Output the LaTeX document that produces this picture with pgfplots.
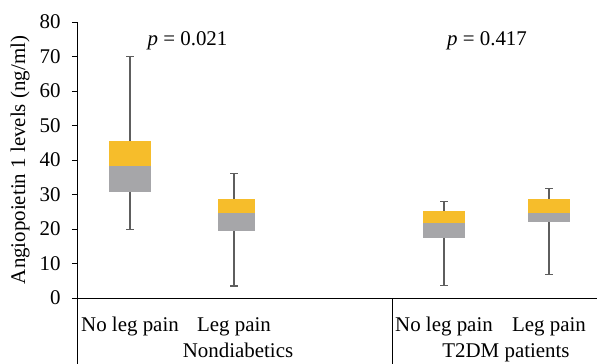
\documentclass[border=0pt]{standalone}
\usepackage{fontspec}
\setmainfont{Liberation Serif}
\usepackage{pgfplots}
\pgfplotsset{compat=1.18}
\definecolor{boxyellow}{HTML}{F6BD2B}
\definecolor{boxgrey}{HTML}{A6A6A9}
\definecolor{whisk}{HTML}{5E5E5E}
\begin{document}
\begin{tikzpicture}[x=1bp,y=1bp]
\useasboundingbox (-77bp,-66bp) rectangle (520bp,298bp);
\begin{axis}[
  at={(0,0)}, anchor=south west,
  scale only axis, width=520bp, height=276bp,
  xmin=0, xmax=520, ymin=0, ymax=80,
  axis x line=bottom, axis y line=left,
  axis line style={-, black, line width=0.9bp},
  clip=false,
  ytick={0,10,...,80},
  xtick={53,157,367,472},
  xticklabels={No leg pain, Leg pain, No leg pain, Leg pain},
  x tick style={draw=none},
  y tick style={black, line width=0.9bp},
  tick align=outside, major tick length=5bp,
  /pgf/number format/assume math mode=true,
  tick label style={font=\fontsize{21}{25}\selectfont},
  xticklabel style={anchor=base, yshift=-28bp},
  yticklabel style={anchor=east, xshift=-8bp},
  every axis y label/.style={at={([xshift=-57bp]axis description cs:0,0.5)}, rotate=90, anchor=center, font=\fontsize{21}{25}\selectfont},
  ylabel={Angiopoietin 1 levels (ng/ml)},
]
% whiskers (drawn first, boxes cover the inner ends)
\addplot[whisk, line width=1.3bp, mark=-, mark size=4bp, mark options={solid, line width=1.3bp}] coordinates {(53,19.8) (53,70)};
\addplot[whisk, line width=1.3bp, mark=-, mark size=4bp, mark options={solid, line width=1.3bp}] coordinates {(157,3.5) (157,36.1)};
\addplot[whisk, line width=1.3bp, mark=-, mark size=4bp, mark options={solid, line width=1.3bp}] coordinates {(367,3.7) (367,27.9)};
\addplot[whisk, line width=1.3bp, mark=-, mark size=4bp, mark options={solid, line width=1.3bp}] coordinates {(472,6.9) (472,31.8)};
% lower box parts (Q1 to median)
\addplot[fill=boxgrey, draw=none] coordinates {(32,30.8) (74,30.8) (74,38.2) (32,38.2)} -- cycle;
\addplot[fill=boxgrey, draw=none] coordinates {(141,19.5) (178,19.5) (178,24.6) (141,24.6)} -- cycle;
\addplot[fill=boxgrey, draw=none] coordinates {(346,17.3) (388,17.3) (388,21.7) (346,21.7)} -- cycle;
\addplot[fill=boxgrey, draw=none] coordinates {(451,22.0) (493,22.0) (493,24.6) (451,24.6)} -- cycle;
% upper box parts (median to Q3)
\addplot[fill=boxyellow, draw=none] coordinates {(32,38.2) (74,38.2) (74,45.5) (32,45.5)} -- cycle;
\addplot[fill=boxyellow, draw=none] coordinates {(141,24.6) (178,24.6) (178,28.6) (141,28.6)} -- cycle;
\addplot[fill=boxyellow, draw=none] coordinates {(346,21.7) (388,21.7) (388,25.2) (346,25.2)} -- cycle;
\addplot[fill=boxyellow, draw=none] coordinates {(451,24.6) (493,24.6) (493,28.6) (451,28.6)} -- cycle;
% group separators
\draw[black, line width=0.9bp] (axis cs:0,0) -- ++(0,-66bp);
\draw[black, line width=0.9bp] (axis cs:315,0) -- ++(0,-66bp);
% group labels
\node[anchor=base, font=\fontsize{21}{25}\selectfont] at ([yshift=-59bp]axis cs:161,0) {Nondiabetics};
\node[anchor=base, font=\fontsize{21}{25}\selectfont] at ([yshift=-59bp]axis cs:429,0) {T2DM patients};
% p values
\node[anchor=base, font=\fontsize{21}{25}\selectfont] at (axis cs:110.5,73.3) {\textit{p} = 0.021};
\node[anchor=base, font=\fontsize{21}{25}\selectfont] at (axis cs:410,73.3) {\textit{p} = 0.417};
\end{axis}
\end{tikzpicture}
\end{document}
